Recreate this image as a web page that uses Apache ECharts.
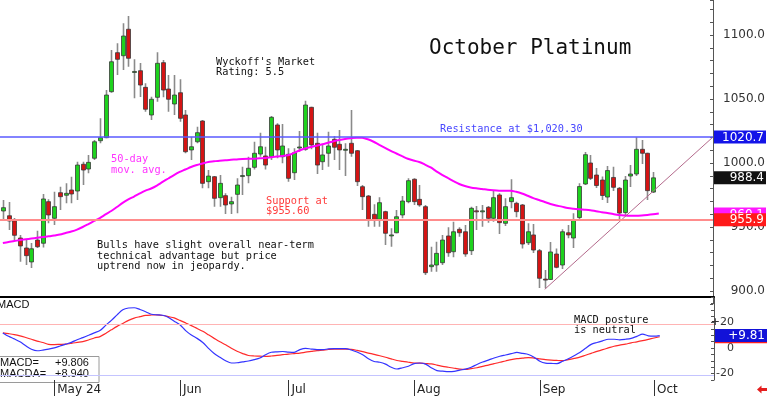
<!DOCTYPE html>
<html><head><meta charset="utf-8">
<script src="https://cdn.jsdelivr.net/npm/echarts@6/dist/echarts.min.js"></script>
<style>html,body{margin:0;padding:0;background:#fff}#c{width:768px;height:396px}</style>
</head><body><div id="c"></div>
<script>
// ---- data ----
const categories = Array.from({length: 125}, (_, i) => String(i)); // trading-day slots (Apr 18 .. mid Oct)
const monthLabels = {9: 'May 24', 31: 'Jun', 50: 'Jul', 72: 'Aug', 94: 'Sep', 114: 'Oct'};
// [open, close, low, high]
const candles = [
[962.5,965.1,955.1,971.1],[958.8,954.7,947.7,969.5],[954.9,943.5,939.8,957.0],[941.4,935.2,922.9,943.8],
[933.6,927.6,920.3,940.6],[922.7,933.0,918.0,937.5],[939.8,934.6,933.6,947.1],[937.3,971.9,934.0,975.8],
[969.8,959.4,952.9,971.6],[956.8,965.9,951.6,977.6],[976.8,973.7,963.3,981.5],[974.8,976.3,968.5,984.1],
[978.9,975.8,968.5,989.3],[978.1,998.4,971.1,1001.0],[999.0,994.5,982.8,1001.0],[995.3,1000.5,992.0,1006.3],
[1003.7,1016.6,1002.3,1018.0],[1017.4,1019.8,1015.4,1034.9],[1019.8,1053.1,1019.3,1057.0],[1055.7,1079.1,1054.9,1088.3],
[1086.2,1081.0,1068.8,1093.5],[1083.8,1099.2,1072.7,1109.1],[1104.5,1081.8,1075.2,1114.8],[1071.1,1071.5,1050.5,1081.0],
[1072.1,1060.9,1051.6,1078.1],[1059.1,1042.0,1040.1,1062.3],[1037.5,1049.8,1033.6,1051.8],[1051.3,1077.9,1047.9,1086.5],
[1078.4,1057.0,1051.3,1080.5],[1057.8,1049.8,1040.1,1068.8],[1046.1,1053.1,1037.5,1068.8],[1054.9,1034.9,1032.3,1065.4],
[1037.5,1008.8,1007.6,1041.4],[1010.2,1012.7,1002.3,1020.5],[1016.6,1023.7,1015.4,1028.4],[1032.8,984.1,980.2,1033.6],
[985.4,989.8,980.2,994.5],[989.3,972.4,965.9,989.8],[972.9,984.1,965.9,990.6],[974.5,967.2,960.2,976.3],
[968.0,969.8,960.2,973.7],[975.5,982.8,960.7,988.0],[989.8,990.2,975.0,997.1],[990.1,995.9,984.1,1004.9],
[996.6,1007.6,995.0,1016.6],[1007.0,1012.7,1004.9,1023.7],[1005.5,998.4,995.0,1012.7],[1004.9,1035.7,1002.3,1036.7],
[1029.7,1010.2,1003.7,1031.0],[1004.9,1013.3,999.8,1030.5],[1006.8,988.0,985.4,1011.5],[992.4,1008.0,986.7,1011.5],
[1012.2,1012.5,1008.8,1025.0],[1010.7,1045.3,1009.6,1048.7],[1043.5,1014.1,1010.7,1044.0],[1015.4,998.4,991.4,1023.7],
[1001.0,1006.3,994.5,1014.1],[1007.6,1013.3,997.1,1024.4],[1018.5,1012.3,1002.3,1021.1],[1014.6,1010.2,994.5,1025.8],
[1010.5,1010.7,989.8,1015.4],[1015.4,1007.6,1004.9,1041.4],[1009.6,985.4,982.0,1010.2],[981.5,973.7,963.3,982.8],
[974.2,955.5,950.2,975.0],[959.9,955.5,950.2,967.7],[956.0,969.0,950.2,973.2],[962.0,945.1,935.9,962.7],
[943.4,943.8,934.6,949.0],[945.5,958.0,945.1,963.3],[959.4,970.3,956.8,974.2],[969.8,986.2,968.5,988.0],
[987.3,969.8,967.2,988.0],[971.6,967.2,965.9,982.8],[965.9,914.3,912.5,967.2],[919.0,920.3,915.1,934.6],
[920.3,929.4,915.1,938.5],[922.1,939.8,920.3,943.8],[943.0,929.9,926.8,949.8],[930.7,946.3,926.3,954.1],
[948.2,945.5,942.4,949.8],[946.3,928.9,926.8,951.6],[931.5,964.6,928.1,965.9],[962.6,962.2,947.7,966.4],
[962.2,962.6,950.2,967.2],[965.4,956.8,953.4,966.4],[956.8,972.9,954.1,978.9],[975.0,953.4,944.5,976.3],
[952.9,965.9,950.8,972.4],[969.8,972.9,964.6,987.3],[968.5,962.0,957.6,969.8],[967.2,936.7,933.3,968.0],
[937.7,946.3,935.9,952.9],[943.8,932.0,929.7,952.3],[931.5,909.9,902.3,932.8],[909.3,909.0,902.1,916.4],
[909.0,930.5,908.6,938.3],[928.9,918.5,917.7,933.3],[920.3,946.3,917.2,948.2],[945.5,943.8,941.2,951.6],
[941.4,955.5,933.6,960.7],[957.4,981.6,955.5,984.1],[983.6,1006.5,982.8,1008.6],[1000.0,988.0,986.7,1006.3],
[990.6,982.4,980.5,996.1],[986.7,974.6,971.1,989.4],[973.4,994.1,968.8,997.6],[988.7,981.0,978.1,997.1],
[980.2,960.9,956.2,981.2],[961.3,986.7,958.6,989.8],[989.8,991.4,981.2,998.4],[991.4,1010.7,989.8,1020.1],
[1010.7,1007.6,999.2,1018.0],[1007.6,978.4,971.1,1008.1],[977.3,988.4,976.6,993.0]
];
const ma50 = [937.5,938.3,939.0,939.8,940.4,941.0,941.6,942.2,942.7,943.4,
944.1,945.3,946.5,948.0,950.0,952.3,954.7,957.0,959.8,962.5,
965.6,968.8,971.5,973.8,976.2,978.4,980.1,982.4,985.2,987.9,
990.6,993.0,994.9,996.9,998.4,999.6,1000.8,1001.3,1001.8,1002.2,
1002.5,1002.8,1003.1,1003.3,1003.4,1003.7,1003.9,1004.5,1005.1,1005.5,
1006.0,1007.8,1009.8,1011.3,1012.5,1013.5,1014.6,1015.8,1017.0,1018.0,
1018.8,1019.4,1019.8,1019.7,1018.5,1016.6,1014.2,1011.9,1009.5,1007.4,
1005.3,1003.3,1001.9,1000.8,998.8,996.5,993.5,990.8,988.3,985.9,
983.6,982.0,980.9,980.2,979.7,979.1,978.7,978.4,978.3,978.3,
977.5,976.2,974.4,972.6,971.1,969.5,968.0,966.8,965.9,964.8,
964.2,963.8,963.5,963.1,962.3,961.6,960.9,960.1,959.4,959.0,
958.8,958.8,959.0,959.4,959.9,960.5];
const macd = [11.9,9.2,7.2,4.9,1.8,-0.9,-2.1,-1.6,-0.8,0.2,
1.6,3.1,4.5,6.5,8.2,10.0,11.9,13.7,17.8,21.7,
26.0,30.0,31.4,31.6,30.2,28.5,26.5,26.0,25.7,24.0,
21.1,18.2,13.7,10.2,7.6,4.4,-0.2,-4.3,-7.2,-9.9,
-11.7,-11.5,-10.8,-10.1,-9.1,-7.8,-5.2,-3.3,-2.9,-2.7,
-3.1,-3.3,-1.2,-0.2,-0.8,-1.2,-1.2,-0.7,-0.5,-0.5,
-0.5,-1.5,-3.1,-5.2,-8.3,-10.5,-11.1,-12.6,-15.0,-16.4,
-15.4,-14.2,-12.2,-11.7,-12.6,-15.4,-17.7,-18.1,-18.5,-18.3,
-17.3,-16.5,-15.0,-12.8,-10.9,-9.4,-7.8,-6.4,-5.4,-4.4,
-3.4,-4.2,-5.0,-7.2,-10.3,-11.8,-12.0,-12.2,-10.3,-8.3,
-6.0,-3.5,-0.2,2.9,4.4,5.7,6.9,6.9,6.5,6.9,
7.6,9.2,10.9,9.6,9.3,9.8];
const macdSignal = [11.9,11.3,10.6,9.6,8.3,6.9,5.5,4.4,2.9,2.7,
2.9,3.1,3.7,4.4,5.1,6.3,7.9,9.0,11.5,14.3,
17.0,19.3,21.7,23.5,24.6,25.6,25.9,26.0,25.5,24.6,
23.6,21.7,19.7,17.6,15.4,13.1,10.4,7.6,4.9,2.6,
-0.2,-2.5,-4.3,-5.8,-6.2,-6.3,-6.5,-6.2,-5.7,-5.2,
-4.7,-4.3,-3.9,-3.2,-2.6,-2.0,-1.6,-1.1,-0.8,-0.8,
-0.8,-1.0,-1.8,-2.8,-3.9,-4.9,-6.0,-7.2,-8.5,-9.7,
-10.4,-11.1,-11.7,-11.8,-12.1,-12.4,-13.3,-14.3,-15.0,-15.8,
-16.5,-16.7,-16.1,-15.4,-14.3,-13.3,-12.2,-11.1,-10.1,-9.0,
-8.3,-7.9,-7.4,-7.8,-8.4,-9.0,-9.4,-9.7,-9.9,-9.1,
-8.1,-7.1,-5.6,-4.1,-2.6,-1.2,0.1,1.4,2.3,3.1,
4.1,4.9,5.8,6.8,7.9,8.9];
const resistance = 1020.3, support = 955.6;
const trendPoints = [[95, 901.3], [124.5, 1020.3]]; // [slot, price]
const priceTags = {resistance: '1020.7', last: '988.4', lastValue: 988.4, ma: '960.1', maValue: 960.1, support: '955.9'};
const macdTags = {macd: '+9.81', macdValue: 9.806, signalValue: 8.94};
const macdRefLines = [19, -21];

// ---- chart ----
const chart = echarts.init(document.getElementById('c'), null, {renderer: 'canvas'});
const mono = '"DejaVu Sans Mono", monospace';
const sans = '"DejaVu Sans", sans-serif';
function tag(val, text, bg, extra) {
  return Object.assign({
    yAxis: val,
    lineStyle: {color: 'rgba(0,0,0,0)', width: 1, type: 'solid'},
    label: {show: true, position: 'end', distance: 1, formatter: '{a|' + text + '}',
      backgroundColor: bg, padding: [1, 2, 0, 0],
      rich: {a: {width: 50, align: 'right', color: '#fff', fontSize: 12, lineHeight: 12, fontFamily: sans}}}
  }, extra || {});
}
const option = {
  animation: false,
  backgroundColor: '#fff',
  grid: [
    {left: 0, top: 0, width: 714, height: 303.8},
    {left: 0, top: 297, width: 714, height: 83.4}
  ],
  xAxis: [
    {type: 'category', gridIndex: 0, data: categories, show: false, axisLine: {onZero: false}},
    {type: 'category', gridIndex: 1, data: categories,
      axisLine: {show: false, onZero: false},
      axisTick: {show: true, alignWithLabel: true, length: 16, interval: (i) => i in monthLabels, lineStyle: {color: '#333'}},
      axisLabel: {interval: (i) => i in monthLabels, formatter: (v, i) => monthLabels[i] || '', align: 'left',
        margin: 4, padding: [0, 0, 0, 3], color: '#222', fontFamily: sans, fontSize: 12}},
    {type: 'value', gridIndex: 0, min: -0.5, max: 124.5, show: false, axisLine: {onZero: false}},
    {type: 'category', gridIndex: 1, position: 'top', data: categories,
      axisLine: {show: true, onZero: false, lineStyle: {color: '#000', width: 2}}, axisTick: {show: false}, axisLabel: {show: false}}
  ],
  yAxis: [
    {type: 'value', gridIndex: 0, position: 'right', min: 890, max: 1127.34, interval: 10,
      axisLine: {show: true, onZero: false, lineStyle: {color: '#555'}},
      axisTick: {show: true, inside: true, length: 3, lineStyle: {color: '#555'}},
      splitLine: {show: false},
      axisLabel: {formatter: (v) => (Math.abs(v % 50) < 1e-6 ? v.toFixed(1) : ''), align: 'right', margin: 52,
        color: '#333', fontFamily: sans, fontSize: 12}},
    {type: 'value', gridIndex: 1, position: 'right', min: -25, max: 40, interval: 5,
      axisLine: {show: true, onZero: false, lineStyle: {color: '#555'}},
      axisTick: {show: true, inside: true, length: 3, lineStyle: {color: '#555'}},
      splitLine: {show: false},
      axisLabel: {formatter: (v) => (v === 20 ? '+20' : v === 0 ? '0' : v === -20 ? '-20' : ''), align: 'right', margin: 20,
        color: '#333', fontFamily: sans, fontSize: 11}}
  ],
  series: [
    {
      type: 'custom', name: 'Oct Platinum', xAxisIndex: 0, yAxisIndex: 0, clip: true,
      data: candles.map((d, i) => [i, d[0], d[1], d[2], d[3]]),
      encode: {x: 0, y: [1, 2, 3, 4]},
      renderItem: function (params, api) {
        const i = api.value(0), o = api.value(1), c = api.value(2), l = api.value(3), h = api.value(4);
        const pH = api.coord([i, h]), pL = api.coord([i, l]), pO = api.coord([i, o]), pC = api.coord([i, c]);
        const x = Math.round(pH[0]) + 0.5;
        const top = Math.min(pO[1], pC[1]), bot = Math.max(pO[1], pC[1]);
        return {type: 'group', children: [
          {type: 'line', shape: {x1: x, y1: pH[1], x2: x, y2: pL[1]}, style: {stroke: '#8a8a8a', lineWidth: 1.6}},
          {type: 'rect', shape: {x: x - 2, y: top, width: 4, height: Math.max(bot - top, 1)},
            style: {fill: c >= o ? '#1ed21e' : '#d41414', stroke: '#3a3a3a', lineWidth: 0.8}}
        ]};
      }
    },
    {
      type: 'line', name: '50-day', xAxisIndex: 0, yAxisIndex: 0, data: ma50, symbol: 'none', smooth: 0.3,
      lineStyle: {color: '#ff00ff', width: 2}, z: 3,
      markLine: {silent: true, symbol: 'none', data: [
        {yAxis: resistance, lineStyle: {color: '#5a5aff', width: 1.5, type: 'solid'},
          label: {show: true, position: 'end', distance: 1, formatter: '{a|' + priceTags.resistance + '}',
            backgroundColor: '#1414e8', padding: [1, 2, 0, 0],
            rich: {a: {width: 50, align: 'right', color: '#fff', fontSize: 12, lineHeight: 12, fontFamily: sans}}}},
        tag(priceTags.lastValue, priceTags.last, '#111'),
        tag(priceTags.maValue, priceTags.ma, '#ff18ff')
      ]}
    },
    {
      type: 'line', name: 'trend', xAxisIndex: 2, yAxisIndex: 0, data: trendPoints, symbol: 'none',
      lineStyle: {color: '#b46a8c', width: 1}, z: 3,
      markLine: {silent: true, symbol: 'none', data: [
        tag(support, priceTags.support, '#ff1a1a', {lineStyle: {color: '#ff8c8c', width: 2, type: 'solid'}})
      ]}
    },
    {
      type: 'line', name: 'MACDA', xAxisIndex: 1, yAxisIndex: 1, data: macdSignal, symbol: 'none', smooth: 0.3,
      lineStyle: {color: '#ff2a2a', width: 1.2},
      markLine: {silent: true, symbol: 'none', data: [
        {yAxis: macdRefLines[0], lineStyle: {color: '#ffb4b4', width: 1, type: 'solid'}, label: {show: false}},
        {yAxis: macdRefLines[1], lineStyle: {color: '#c4c4ff', width: 1, type: 'solid'}, label: {show: false}},
        tag(macdTags.signalValue, '', '#ff2020')
      ]}
    },
    {
      type: 'line', name: 'MACD', xAxisIndex: 1, yAxisIndex: 1, data: macd, symbol: 'none', smooth: 0.3,
      lineStyle: {color: '#3434ff', width: 1.2},
      markLine: {silent: true, symbol: 'none', data: [tag(macdTags.macdValue, macdTags.macd, '#1212d8')]}
    }
  ],
  graphic: [
    {type: 'text', x: 429, y: 48.5, z: 50, style: {text: 'October Platinum', fill: '#111', font: '21px ' + mono, verticalAlign: 'middle'}},
    {type: 'text', x: 216, y: 57.5, z: 50, style: {text: "Wyckoff's Market\nRating: 5.5", fill: '#111', font: '10.3px ' + mono, lineHeight: 10.2}},
    {type: 'text', x: 111, y: 154, z: 50, style: {text: '50-day\nmov. avg.', fill: '#ff33ff', font: '10.3px ' + mono, lineHeight: 10.8}},
    {type: 'text', x: 97, y: 240.5, z: 50, style: {text: 'Bulls have slight overall near-term\ntechnical advantage but price\nuptrend now in jeopardy.', fill: '#111', font: '10.3px ' + mono, lineHeight: 10.5}},
    {type: 'text', x: 440, y: 124, z: 50, style: {text: 'Resistance at $1,020.30', fill: '#4646ff', font: '10.3px ' + mono}},
    {type: 'text', x: 266, y: 196, z: 50, style: {text: 'Support at\n$955.60', fill: '#ff3a3a', font: '10.3px ' + mono, lineHeight: 10.2}},
    {type: 'text', x: 574, y: 314.5, z: 50, style: {text: 'MACD posture\nis neutral', fill: '#111', font: '10.3px ' + mono, lineHeight: 10.8}},
    {type: 'text', x: -3, y: 299, z: 50, style: {text: 'MACD', fill: '#111', font: '11px "Liberation Sans", sans-serif'}},
    {type: 'group', z: 60, children: [
      {type: 'rect', shape: {x: -1, y: 356.5, width: 100, height: 26}, style: {fill: '#fff', stroke: '#9a9a9a', lineWidth: 1}},
      {type: 'text', x: 0, y: 362.5, style: {text: 'MACD=', fill: '#111', font: '11px "Liberation Sans", sans-serif', verticalAlign: 'middle'}},
      {type: 'text', x: 55, y: 362.5, style: {text: '+9.806', fill: '#111', font: '11px "Liberation Sans", sans-serif', verticalAlign: 'middle'}},
      {type: 'text', x: 0, y: 374, style: {text: 'MACDA=', fill: '#111', font: '11px "Liberation Sans", sans-serif', verticalAlign: 'middle'}},
      {type: 'text', x: 55, y: 374, style: {text: '+8.940', fill: '#111', font: '11px "Liberation Sans", sans-serif', verticalAlign: 'middle'}}
    ]},
    {type: 'polygon', z: 60, shape: {points: [[757, 389.5], [761.5, 385.5], [761.5, 388], [767, 388], [767, 391], [761.5, 391], [761.5, 393.5]]},
      style: {fill: '#e41e1e'}}
  ]
};
chart.setOption(option);
</script>
</body></html>
